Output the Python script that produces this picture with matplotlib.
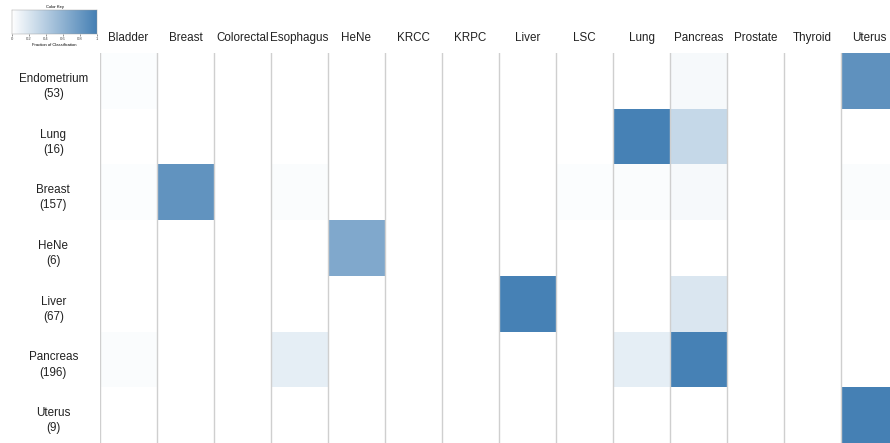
import numpy as np
import matplotlib
matplotlib.use("Agg")
import matplotlib.pyplot as plt
from matplotlib.colors import LinearSegmentedColormap

plt.rcParams['font.family'] = ['Liberation Sans', 'DejaVu Sans']

columns = ["Bladder", "Breast", "Colorectal", "Esophagus", "HeNe", "KRCC", "KRPC",
           "Liver", "LSC", "Lung", "Pancreas", "Prostate", "Thyroid", "Uterus"]
rows = ["Endometrium", "Lung", "Breast", "HeNe", "Liver", "Pancreas", "Uterus"]
row_counts = [53, 16, 157, 6, 67, 196, 9]

# fraction of classification (rows x columns)
endometrium = [0.02, 0, 0, 0, 0, 0, 0, 0, 0, 0, 0.05, 0, 0, 0.86]
lung        = [0, 0, 0, 0, 0, 0, 0, 0, 0, 0.99, 0.31, 0, 0, 0]
breast      = [0.02, 0.85, 0, 0.03, 0, 0, 0, 0, 0.02, 0.03, 0.05, 0, 0, 0.03]
hene        = [0, 0, 0, 0, 0.68, 0, 0, 0, 0, 0, 0, 0, 0, 0]
liver       = [0, 0, 0, 0, 0, 0, 0, 0.99, 0, 0, 0.2, 0, 0, 0]
pancreas    = [0.03, 0, 0, 0.14, 0, 0, 0, 0, 0, 0.14, 0.99, 0, 0, 0]
uterus      = [0, 0, 0, 0, 0, 0, 0, 0, 0, 0, 0, 0, 0, 1.0]

data = np.array([endometrium, lung, breast, hene, liver, pancreas, uterus])
key_ticks = [0, 0.2, 0.4, 0.6, 0.8, 1]

W, H = 890, 443
fig = plt.figure(figsize=(W / 100, H / 100), dpi=100)
cmap = LinearSegmentedColormap.from_list("wb", ["#ffffff", "#4580b4"])

top_px = 53
ax = fig.add_axes([100 / W, 0, 1 - 100 / W, (H - top_px) / H])
ax.pcolormesh(np.arange(len(columns) + 1), np.arange(len(rows) + 1), data,
              cmap=cmap, vmin=0, vmax=1)
ax.set_xlim(0, (W - 100) / 57.0)
ax.set_ylim(len(rows), 0)
for x in range(len(columns)):
    ax.axvline(x, color="#cfcfcf", lw=1.0, zorder=3)
for s in ax.spines.values():
    s.set_visible(False)
ax.set_xticks([])
ax.set_yticks([])

# column labels
for i, c in enumerate(columns):
    ax.text(i + 0.5, -0.27, c, ha="center", va="center", fontsize=8.4,
            color="#222222", clip_on=False)
# row labels
for j, (r, n) in enumerate(zip(rows, row_counts)):
    ax.text(-0.82, j + 0.6, f"{r}\n({n})", ha="center", va="center",
            fontsize=8.4, color="#222222", linespacing=1.35, clip_on=False)

# color key
kax = fig.add_axes([12 / W, (H - 34) / H, 85 / W, 24 / H])
grad = np.linspace(0, 1, 256).reshape(1, -1)
kax.imshow(grad, aspect="auto", cmap=cmap, extent=[0, 1, 0, 1])
kax.set_yticks([])
kax.set_xticks(key_ticks)
kax.set_xticklabels(["0", "0.2", "0.4", "0.6", "0.8", "1"], fontsize=3)
kax.tick_params(axis="x", length=1.5, width=0.4, pad=1, colors="#444444")
for s in kax.spines.values():
    s.set_linewidth(0.3)
    s.set_color("#999999")
kax.set_title("Color Key", fontsize=3, pad=1.5)
kax.set_xlabel("Fraction of Classification", fontsize=3, labelpad=1)

fig.savefig("out.png", dpi=100)
